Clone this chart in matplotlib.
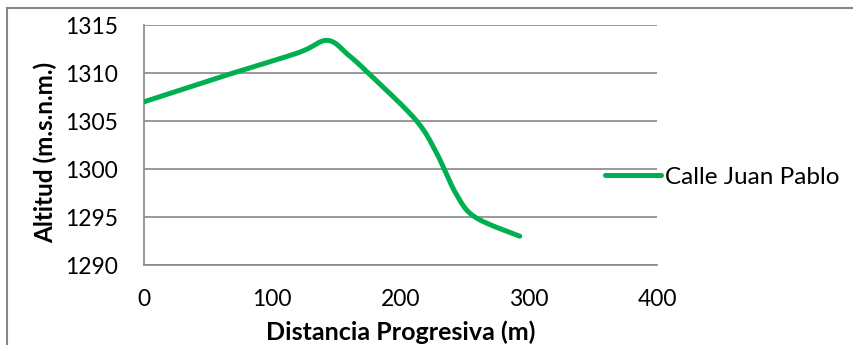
import numpy as np
import matplotlib.pyplot as plt
from matplotlib.lines import Line2D

# values
distance = [0, 60, 120, 143, 160, 178, 212, 228, 243, 258, 293]
altitude = [1307.0, 1309.6, 1312.1, 1313.4, 1311.8, 1309.6, 1305.1, 1301.7, 1297.5, 1295.0, 1293.0]
series_name = "Calle Juan Pablo"
x_ticks = [0, 100, 200, 300, 400]
y_ticks = [1290, 1295, 1300, 1305, 1310, 1315]

green = "#00B050"
grid_grey = "#888888"

plt.rcParams['font.family'] = ['Lato', 'DejaVu Sans']


def smooth_line(x, y, steps=30):
    """Excel-like smoothed line (Catmull-Rom through the points)"""
    p = np.column_stack([x, y]).astype(float)
    p = np.vstack([p[0], p, p[-1]])
    out = []
    t = np.linspace(0, 1, steps)[:, None]
    for i in range(1, len(p) - 2):
        p0, p1, p2, p3 = p[i - 1], p[i], p[i + 1], p[i + 2]
        seg = 0.5 * ((2 * p1) + (-p0 + p2) * t + (2 * p0 - 5 * p1 + 4 * p2 - p3) * t**2
                     + (-p0 + 3 * p1 - 3 * p2 + p3) * t**3)
        out.append(seg)
    out = np.vstack(out)
    return out[:, 0], out[:, 1]


fig = plt.figure(figsize=(8.54, 3.45), dpi=100)
ax = fig.add_axes([144 / 854, 1 - 265 / 345, (657 - 144) / 854, (265 - 25) / 345])

sx, sy = smooth_line(distance, altitude)
ax.plot(sx, sy, color=green, lw=3.6, solid_capstyle='round', label=series_name, zorder=3)

ax.set_xlim(0, 400)
ax.set_ylim(1290, 1315)
ax.set_xticks(x_ticks)
ax.set_yticks(y_ticks)
ax.tick_params(axis='both', length=0, labelsize=16.5, colors='black')
ax.tick_params(axis='y', pad=18.5)
ax.tick_params(axis='x', pad=17)
ax.yaxis.grid(True, color=grid_grey, lw=1.2)
ax.set_axisbelow(True)
for s in ['top', 'right']:
    ax.spines[s].set_visible(False)
for s in ['left', 'bottom']:
    ax.spines[s].set_color(grid_grey)
    ax.spines[s].set_linewidth(1.2)

ax.set_xlabel('Distancia Progresiva (m)', fontsize=18, fontweight='bold')
ax.xaxis.set_label_coords(0.501, -0.232)
ax.set_ylabel('Altitud (m.s.n.m.)', fontsize=17.5, fontweight='bold')
ax.yaxis.set_label_coords(-0.170, 0.47)

handle = Line2D([], [], color=green, lw=3.6, solid_capstyle='round')
fig.legend([handle], [series_name], loc='center left', bbox_to_anchor=(593 / 854, 1 - 177 / 345),
           frameon=False, fontsize=17.5, handlelength=2.3, handletextpad=0.15, borderpad=0)

# chart frame (only top and left edge visible)
fig.add_artist(Line2D([7 / 854, 1], [1 - 8 / 345, 1 - 8 / 345], color=grid_grey, lw=1.5))
fig.add_artist(Line2D([7 / 854, 7 / 854], [0, 1 - 8 / 345], color=grid_grey, lw=1.5))

fig.savefig('out.png', dpi=100)
